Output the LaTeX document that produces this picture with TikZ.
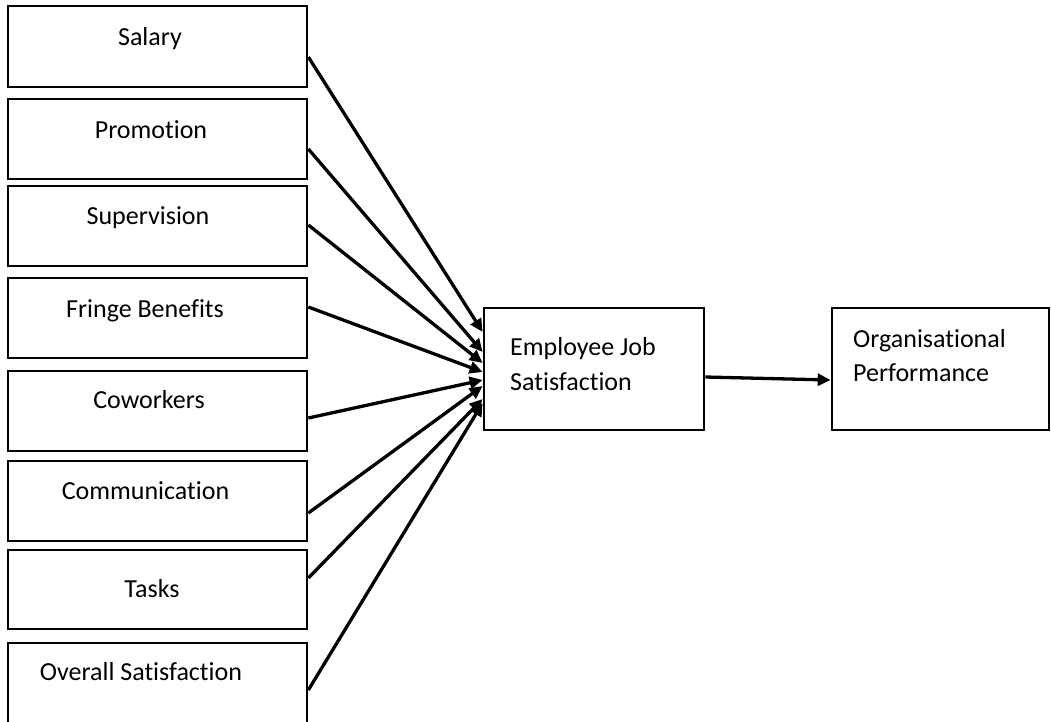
\documentclass[tikz,border=0pt]{standalone}
\usepackage{fontspec}
\setmainfont{Carlito}[Ligatures={NoCommon}]
\usetikzlibrary{arrows.meta}
\begin{document}
\begin{tikzpicture}[x=1pt,y=-1pt,
  box/.style={draw, line width=2.7pt, rectangle, inner sep=0pt},
  lbox/.style={box, minimum width=299pt},
  lbl/.style={font=\fontsize{26}{35}\selectfont, inner sep=0pt},
  conn/.style={line width=3.3pt, -{Triangle[length=13pt,width=12pt]}}]
\useasboundingbox (0,0) rectangle (1051,721);
% left boxes
\node[lbox, minimum height=81pt] (salary) at (157.5,46.5) {};
\node[lbox, minimum height=80pt] (promotion) at (157.5,139) {};
\node[lbox, minimum height=80pt] (supervision) at (157.5,226) {};
\node[lbox, minimum height=80pt] (fringe) at (157.5,318) {};
\node[lbox, minimum height=80pt] (coworkers) at (157.5,411) {};
\node[lbox, minimum height=80pt] (communication) at (157.5,501) {};
\node[lbox, minimum height=79pt] (tasks) at (157.5,589.5) {};
\node[lbox, minimum height=82pt] (overall) at (157.5,684) {};
% labels
\node[lbl, anchor=base] (tsalary) at (150,45) {Salary};
\node[lbl, anchor=base] (tpromotion) at (151,138) {Promotion};
\node[lbl, anchor=base] (tsupervision) at (148,224) {Supervision};
\node[lbl, anchor=base] (tfringe) at (145,317) {Fringe Benefits};
\node[lbl, anchor=base] (tcoworkers) at (149,408) {Coworkers};
\node[lbl, anchor=base] (tcommunication) at (145.5,499) {Communication};
\node[lbl, anchor=base] (ttasks) at (152,597) {Tasks};
\node[lbl, anchor=base] (toverall) at (141,680) {Overall Satisfaction};
% right boxes
\node[box, minimum width=220pt, minimum height=122pt] (emp) at (594,369) {};
\node[lbl, anchor=base west] (temp1) at (510,355) {Employee Job};
\node[lbl, anchor=base west] (temp2) at (510,390) {Satisfaction};
\node[box, minimum width=217pt, minimum height=122pt] (org) at (940.5,369) {};
\node[lbl, anchor=base west] (torg1) at (853,347) {Organisational};
\node[lbl, anchor=base west] (torg2) at (853,381) {Performance};
% connectors
\draw[conn] ([yshift=-10.5pt]salary.east) -- ([yshift=37pt]emp.west);
\draw[conn] ([yshift=-10pt]promotion.east) -- ([yshift=17pt]emp.west);
\draw[conn] ([yshift=1pt]supervision.east) -- ([yshift=6pt]emp.west);
\draw[conn] ([yshift=11pt]fringe.east) -- ([yshift=-3pt]emp.west);
\draw[conn] ([yshift=-7pt]coworkers.east) -- ([yshift=-11pt]emp.west);
\draw[conn] ([yshift=-12pt]communication.east) -- ([yshift=-17pt]emp.west);
\draw[conn] ([yshift=11.5pt]tasks.east) -- ([yshift=-30pt]emp.west);
\draw[conn] ([yshift=-6pt]overall.east) -- ([yshift=-34pt]emp.west);
\draw[conn] ([yshift=-8pt]emp.east) -- ([yshift=-11pt]org.west);
\end{tikzpicture}
\end{document}
